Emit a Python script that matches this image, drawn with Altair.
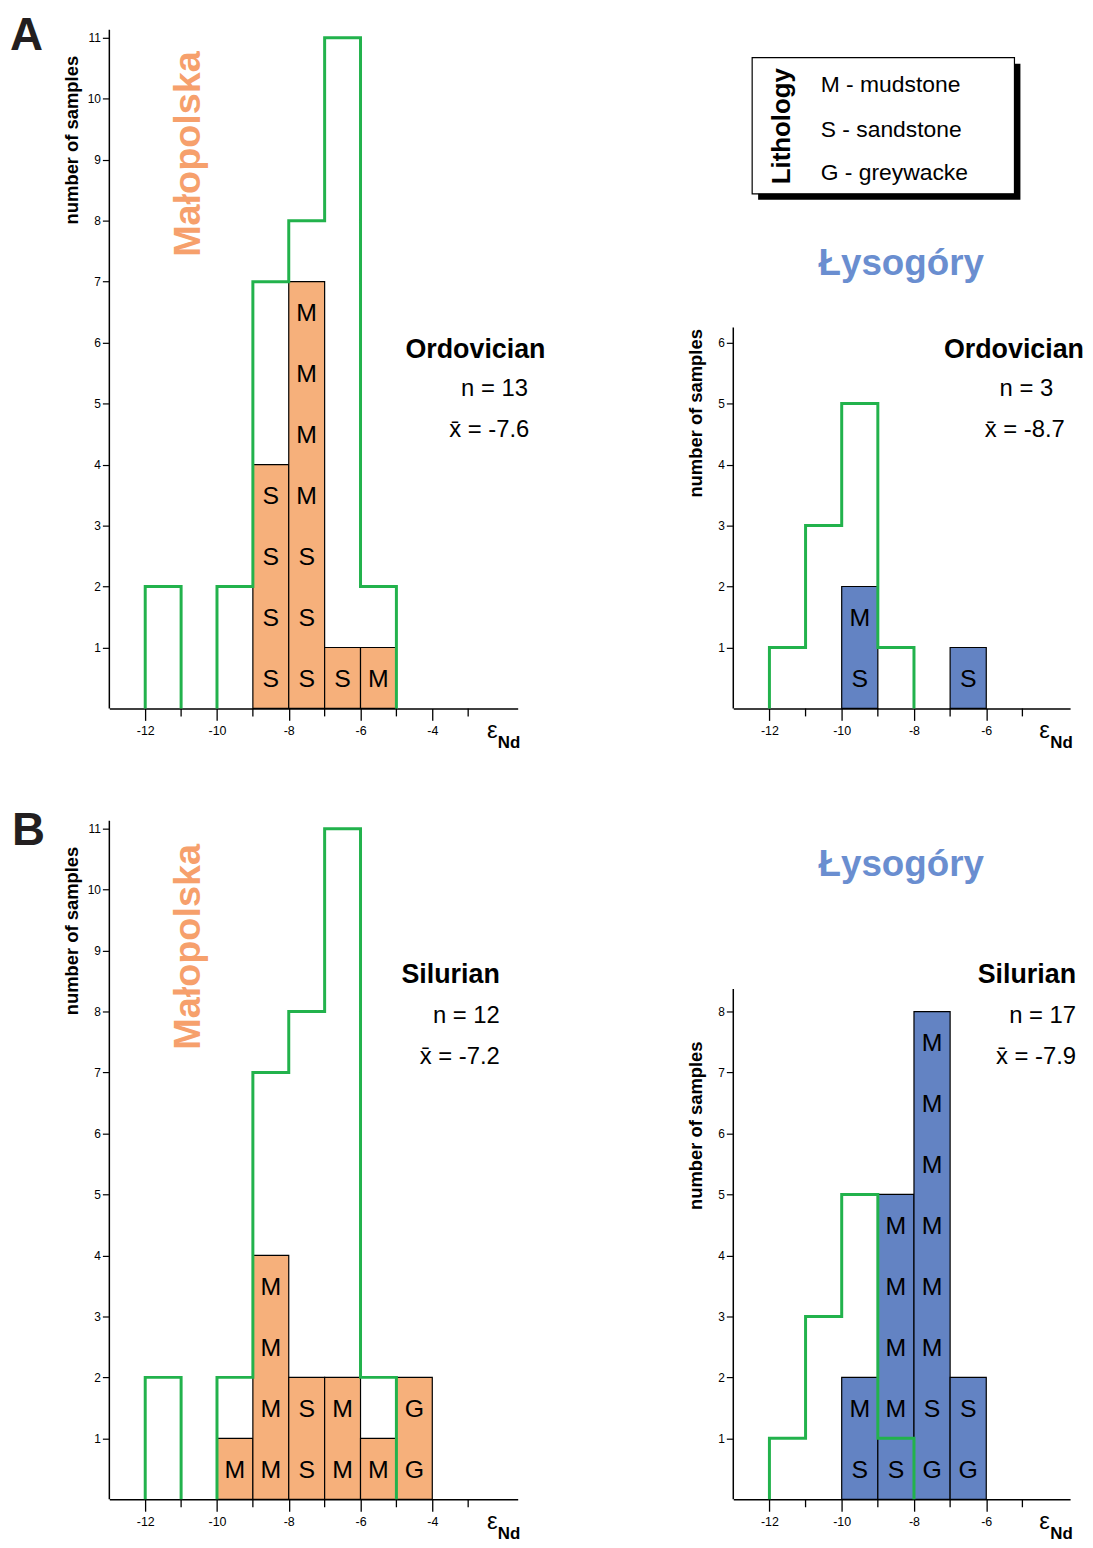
import altair as alt
import pandas as pd

FONT = "Liberation Sans"

# ---------------- data ----------------
# lithology stacks (bottom -> top) per 1-unit eNd bin (bin start)
ORD_MALO_BINS = [-9, -8, -7, -6]
ORD_MALO_LITH = ["SSSS", "SSSMMMM", "S", "M"]
ORD_LYSO_BINS = [-10, -7]
ORD_LYSO_LITH = ["SM", "S"]
SIL_MALO_BINS = [-10, -9, -8, -7, -6, -5]
SIL_MALO_LITH = ["M", "MMMM", "SS", "MM", "M", "GG"]
SIL_LYSO_BINS = [-10, -9, -8, -7]
SIL_LYSO_LITH = ["SM", "SMMMM", "GSMMMMMM", "GS"]

# green outline histograms (bins starting at -12)
GREEN_START = -12
GREEN_MALO = [2, 0, 2, 7, 8, 11, 2]
GREEN_LYSO = [1, 3, 5, 1]

X_MAJOR_MALO = [-12, -10, -8, -6, -4]
X_MINOR_MALO = [-11, -9, -7, -5, -3]
X_MAJOR_LYSO = [-12, -10, -8, -6]
X_MINOR_LYSO = [-11, -9, -7, -5]

PERIODS = ["Ordovician", "Ordovician", "Silurian", "Silurian"]
N_VALUES = ["n = 13", "n = 3", "n = 12", "n = 17"]
MEANS = ["x\u0304 = -7.6", "x\u0304 = -8.7", "x\u0304 = -7.2", "x\u0304 = -7.9"]
LEGEND_LINES = ["M - mudstone", "S - sandstone", "G - greywacke"]

ORANGE = "#F6B07B"
BLUE = "#6383C3"
GREEN = "#22B24C"
ORANGE_T = "#F6A06C"
BLUE_T = "#6A8ED0"

H = 683
YMAX = 11.13
ONE = pd.DataFrame({"k": [0]})


def green_df(counts, start):
    rows = []
    run = 0
    order = 0
    i = 0
    n = len(counts)
    while i < n:
        if counts[i] == 0:
            i += 1
            continue
        j = i
        while j < n and counts[j] > 0:
            j += 1
        rows.append(dict(x=start + i, y=0, run=run, o=order)); order += 1
        for k in range(i, j):
            rows.append(dict(x=start + k, y=counts[k], run=run, o=order)); order += 1
        rows.append(dict(x=start + j, y=0, run=run, o=order)); order += 1
        run += 1
        i = j
    return pd.DataFrame(rows)


def txt(s, x, y, size, bold=False, color="black", align="left",
        baseline="alphabetic", angle=None):
    kw = dict(text=s, fontSize=size, font=FONT,
              fontWeight="bold" if bold else "normal", color=color,
              align=align, baseline=baseline)
    if angle is not None:
        kw["angle"] = angle
    return alt.Chart(ONE).mark_text(**kw).encode(x=alt.value(x), y=alt.value(y))


def box(x1, x2, y1, y2, fill, stroke=None):
    kw = dict(fill=fill)
    if stroke:
        kw.update(stroke=stroke, strokeWidth=1.2)
    return alt.Chart(ONE).mark_rect(**kw).encode(
        x=alt.value(x1), x2=alt.value(x2), y=alt.value(y1), y2=alt.value(y2))


def panel(bins, liths, green, fill, xmax, width, ytop, ytick_max,
          xmajor, xminor, extras):
    xs = alt.Scale(domain=[-13, xmax], nice=False, zero=False)
    ys = alt.Scale(domain=[0, YMAX], nice=False, zero=False)
    xaxis = alt.Axis(values=xmajor, tickSize=12, title=None, grid=False,
                     labelExpr="datum.value + ''", labelFontSize=12.5,
                     labelFont=FONT, labelPadding=4, labelColor="black",
                     domainColor="black", domainWidth=1.5,
                     tickColor="black", tickWidth=1.3)
    yaxis = alt.Axis(values=list(range(1, ytick_max + 1)), tickSize=7,
                     domain=False, title=None, grid=False,
                     labelFontSize=12, labelFont=FONT, labelPadding=2,
                     labelColor="black", tickColor="black", tickWidth=1.2)

    def X(f):
        return alt.X(f, type="quantitative", scale=xs, axis=xaxis)

    def Y(f):
        return alt.Y(f, type="quantitative", scale=ys, axis=yaxis)

    bars = pd.DataFrame({"x0": bins, "x1": [b + 1 for b in bins],
                         "y0": [0] * len(bins), "y1": [len(s) for s in liths]})
    letters = pd.DataFrame([
        {"xc": b + 0.5, "yc": i + 0.5, "lab": ch}
        for b, s in zip(bins, liths) for i, ch in enumerate(s)
    ])
    yline = pd.DataFrame({"x": [-13], "y0": [0], "y1": [ytop]})
    minor = pd.DataFrame({"x": xminor})

    layers = [
        alt.Chart(yline).mark_rule(color="black", strokeWidth=1.5).encode(
            x=X("x"), y=Y("y0"), y2=alt.Y2("y1")),
        alt.Chart(minor).mark_rule(color="black", strokeWidth=1.3).encode(
            x=X("x"), y=alt.value(H), y2=alt.value(H + 8)),
        alt.Chart(bars).mark_rect(fill=fill, stroke="black", strokeWidth=1.2).encode(
            x=X("x0"), x2=alt.X2("x1"), y=Y("y0"), y2=alt.Y2("y1")),
        alt.Chart(letters).mark_text(font=FONT, fontSize=25, baseline="middle",
                                     dy=1, color="black").encode(
            x=X("xc"), y=Y("yc"), text="lab:N"),
        alt.Chart(green_df(green, GREEN_START)).mark_line(
            interpolate="step-after", color=GREEN, strokeWidth=3,
            strokeJoin="miter").encode(
            x=X("x"), y=Y("y"), detail="run:N", order="o:Q"),
    ]
    # epsilon Nd axis label
    eps_x = width - 31
    layers.append(txt("\u03b5", eps_x, H + 30, 24))
    layers.append(txt("Nd", eps_x + 11, H + 40, 17, bold=True))
    layers += extras
    return alt.layer(*layers).properties(width=width, height=H)


WL = 411
WR = 339
XMAX_L = -1.62
XMAX_R = -3.68

tl_extra = [
    # white corner anchor fixing the page origin
    box(-101, -99, -17, -15, "white"),
    txt("A", -100, 20, 46, bold=True, color="#231F20"),
    txt("number of samples", -38, 111, 18.5, bold=True, align="center",
        baseline="middle", angle=270),
    txt("Małopolska", 80, 125, 38, bold=True, color=ORANGE_T, align="center",
        baseline="middle", angle=270),
    txt(PERIODS[0], 298, 330, 27, bold=True),
    txt(N_VALUES[0], 354, 369, 24),
    txt(MEANS[0], 342, 410, 24),
]

tr_extra = [
    box(25, 289, 34, 171, "black"),
    box(19, 283, 28, 165, "white", stroke="black"),
    txt("Lithology", 49, 97, 26, bold=True, align="center", baseline="middle",
        angle=270),
    txt(LEGEND_LINES[0], 88, 63, 23),
    txt(LEGEND_LINES[1], 88, 108, 23),
    txt(LEGEND_LINES[2], 88, 151, 23),
    txt("Łysogóry", 169, 247, 37, bold=True, color=BLUE_T, align="center"),
    txt("number of samples", -37, 386, 18.5, bold=True, align="center",
        baseline="middle", angle=270),
    txt(PERIODS[1], 212, 330, 27, bold=True),
    txt(N_VALUES[1], 268, 369, 24),
    txt(MEANS[1], 253, 410, 24),
]

bl_extra = [
    txt("B", -98, 24, 46, bold=True, color="#231F20"),
    txt("number of samples", -38, 111, 18.5, bold=True, align="center",
        baseline="middle", angle=270),
    txt("Małopolska", 80, 127, 38, bold=True, color=ORANGE_T, align="center",
        baseline="middle", angle=270),
    txt(PERIODS[2], 393, 163, 27, bold=True, align="right"),
    txt(N_VALUES[2], 393, 204, 24, align="right"),
    txt(MEANS[2], 393, 245, 24, align="right"),
]

br_extra = [
    txt("Łysogóry", 169, 56, 37, bold=True, color=BLUE_T, align="center"),
    txt("number of samples", -37, 307, 18.5, bold=True, align="center",
        baseline="middle", angle=270),
    txt(PERIODS[3], 345, 163, 27, bold=True, align="right"),
    txt(N_VALUES[3], 345, 204, 24, align="right"),
    txt(MEANS[3], 345, 245, 24, align="right"),
]

tl = panel(ORD_MALO_BINS, ORD_MALO_LITH, GREEN_MALO, ORANGE, XMAX_L, WL,
           YMAX, 11, X_MAJOR_MALO, X_MINOR_MALO, tl_extra)
tr = panel(ORD_LYSO_BINS, ORD_LYSO_LITH, GREEN_LYSO, BLUE, XMAX_R, WR,
           6.25, 6, X_MAJOR_LYSO, X_MINOR_LYSO, tr_extra)
bl = panel(SIL_MALO_BINS, SIL_MALO_LITH, GREEN_MALO, ORANGE, XMAX_L, WL,
           YMAX, 11, X_MAJOR_MALO, X_MINOR_MALO, bl_extra)
br = panel(SIL_LYSO_BINS, SIL_LYSO_LITH, GREEN_LYSO, BLUE, XMAX_R, WR,
           8.37, 8, X_MAJOR_LYSO, X_MINOR_LYSO, br_extra)

chart = alt.concat(
    tl, tr, bl, br, columns=2, spacing={"row": 113, "column": 217},
    bounds="flush",
).properties(
    padding={"left": 1, "top": 0, "right": 0, "bottom": 0},
    background="white",
).configure_view(stroke=None)

chart.save("out.html", embed_options={"renderer": "svg", "actions": False})
